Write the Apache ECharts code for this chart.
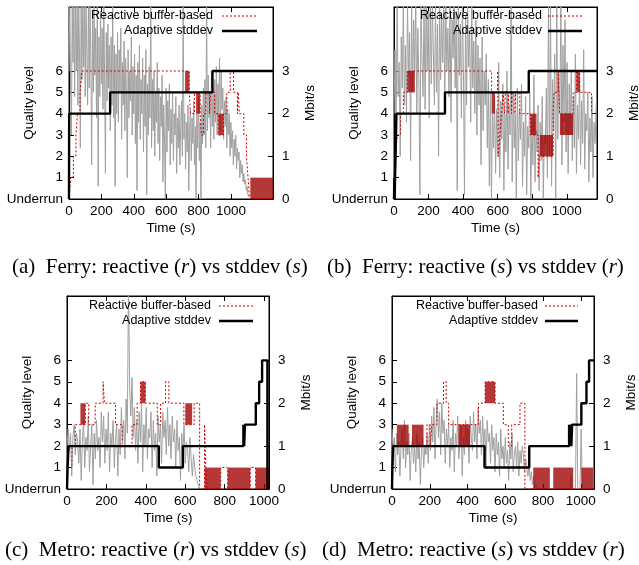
<!DOCTYPE html>
<html><head><meta charset="utf-8">
<script src="https://cdn.jsdelivr.net/npm/echarts@6/dist/echarts.min.js"></script>
<style>html,body{margin:0;padding:0;background:#fff}#c{width:639px;height:565px}</style>
</head><body><div id="c"></div><script>
// ---------- data ----------
const xTicks = [0, 200, 400, 600, 800, 1000];
const levelTicks = [0, 1, 2, 3, 4, 5, 6];
const mbitTicks = [0, 1, 2, 3];
const levelNames = ['Underrun', '1', '2', '3', '4', '5', '6'];
const legendNames = ['Reactive buffer-based', 'Adaptive stddev'];
const captionLetters = ['(a)', '(b)', '(c)', '(d)'];
const captionTrips = ['Ferry', 'Ferry', 'Metro', 'Metro'];
const captionReactive = ['r', 's', 'r', 's'];
const captionStddev = ['s', 'r', 's', 'r'];
const xMax = [1260, 1175, 1025, 1070];

// throughput samples (Mbit/s), sample interval in seconds
const grayStep = [5, 6, 6, 6];
const grayA = [
3.0,4.6,2.6,1.5,4.6,3.2,4.6,2.4,4.6,3.0, 4.6,2.2,4.6,3.4,1.2,4.6,2.8,4.6,3.1,4.6,
2.4,4.6,3.5,2.2,4.6,2.6,4.6,3.3,0.8,4.2, 2.5,4.6,2.9,4.0,1.9,4.6,0.3,3.8,2.4,4.4,
2.7,4.0,2.1,4.6,2.8,0.6,3.9,2.3,4.1,2.6, 3.6,1.6,3.8,2.2,4.6,1.9,3.6,0.3,3.4,2.0,
3.9,1.8,3.5,2.5,4.0,1.4,3.2,2.2,3.7,1.6, 3.3,2.4,0.5,3.5,1.9,3.0,2.3,3.8,1.5,3.1,
2.0,3.4,1.3,2.9,0.2,3.2,1.8,3.6,1.4,2.8, 2.0,3.3,1.1,2.9,1.7,3.5,0.1,2.7,1.5,3.1,
1.9,4.6,1.2,2.8,1.6,3.0,1.0,2.5,1.8,3.2, 1.3,2.6,0.9,2.4,1.7,2.9,0.4,2.2,1.4,0.0,
2.6,1.1,2.3,1.6,2.7,0.8,2.1,1.3,2.5,0.9, 2.0,1.5,2.4,0.6,1.9,1.2,2.2,0.8,1.7,2.3,
1.0,4.5,1.4,2.0,0.7,1.8,1.1,2.2,0.2,1.6, 2.1,0.9,1.9,1.3,2.3,0.8,1.7,0.0,2.0,1.2,
2.4,0.9,1.8,0.0,2.2,1.3,2.6,1.5,2.8,1.2, 4.5,1.6,2.9,1.9,2.5,1.2,3.0,1.7,2.6,1.4,
2.8,1.8,3.1,1.5,2.7,2.0,3.3,1.6,3.0,2.1, 2.6,1.4,2.3,1.7,2.4,1.2,2.1,1.5,2.0,1.0,
1.8,1.2,1.6,0.8,1.4,1.0,1.5,0.7,1.2,0.9, 1.1,0.5,0.9,0.6,0.8,0.4,0.6,0.35,0.45,0.2,
0.3,0.1,0.05
];
const grayB = [
2.0,3.5,1.6,4.6,2.4,3.2,1.0,3.8,2.6,4.6, 2.2,3.6,1.8,4.6,2.9,3.9,0.9,4.6,2.5,4.2,
3.0,4.6,2.0,4.0,2.8,0.1,4.6,3.3,2.4,4.6, 2.1,4.6,3.0,4.4,1.9,4.6,2.7,4.6,3.4,2.2,
4.6,2.5,4.1,1.0,4.6,2.8,4.3,3.2,4.6,2.3, 4.6,3.0,4.0,2.4,4.6,1.8,4.2,3.3,4.6,2.6,
4.4,0.2,4.6,2.9,4.1,1.9,4.6,3.0,0.1,4.3, 2.2,4.6,3.1,3.9,1.8,4.6,2.6,3.7,2.0,4.2,
1.5,3.6,2.2,3.3,0.8,3.8,1.6,3.0,2.2,3.4, 1.2,2.8,0.3,2.5,0.0,2.0,1.2,2.4,0.6,2.1,
1.0,3.2,0.5,2.3,1.4,2.7,0.2,2.0,1.1,3.0, 0.7,2.2,1.5,4.6,0.4,2.5,1.2,2.0,0.0,2.6,
0.9,2.1,1.4,2.7,0.3,1.8,1.0,2.4,0.1,1.7, 1.2,2.5,0.0,1.9,0.8,2.9,0.4,1.6,1.1,2.2,
0.2,1.8,0.9,2.4,0.0,1.5,1.3,2.6,0.5,4.6, 1.0,4.6,0.3,2.8,1.6,3.4,0.0,4.6,1.4,3.0,
2.0,4.6,0.8,3.6,1.8,4.2,1.1,3.2,0.6,2.7, 1.5,3.0,0.9,2.4,1.2,3.4,0.6,2.2,1.4,2.8,
0.8,2.3,1.3,3.5,0.7,2.0,1.6,2.5,0.4,1.9, 1.1,2.4,0.5,1.8,1.3,2.2
];
const grayC = [
1.0,1.4,0.9,1.3,0.3,1.2,1.5,0.8,1.3,1.1, 0.6,1.4,0.2,1.1,1.6,0.5,1.2,0.9,1.7,0.4,
1.0,1.5,0.1,1.3,0.7,1.6,0.9,1.2,0.5,1.8, 1.1,1.7,0.6,1.4,0.9,1.8,0.4,1.3,1.0,1.6,
0.5,1.2,1.5,0.3,1.4,0.8,1.9,1.1,1.6,0.7, 2.1,1.3,4.8,2.4,1.7,2.6,1.2,1.9,0.9,1.6,
0.6,1.8,1.1,2.0,0.4,1.5,1.0,1.9,0.7,1.4, 1.2,1.8,0.5,1.6,0.9,1.3,0.3,1.7,1.1,1.5,
0.6,1.8,1.2,1.6,0.8,1.9,1.0,1.5,0.7,1.7, 1.1,1.4,0.5,1.6,0.9,1.2,0.2,1.3,0.8,1.5,
0.6,1.1,0.9,0.4,1.2,0.7,0.3,0.8,0.5,0.3, 0.2,0.1,0.0
];
const grayD = [
1.4,0.9,1.2,0.4,1.3,0.8,1.1,0.3,1.0,1.4, 0.7,1.6,0.5,1.1,0.8,1.3,0.2,0.9,1.2,0.6,
1.0,0.4,1.3,0.7,1.1,0.1,0.9,1.2,0.5,1.0, 0.8,1.3,0.6,1.5,0.9,1.7,1.1,1.9,0.7,1.6,
2.1,1.2,1.8,0.8,2.0,1.3,1.6,0.6,1.4,1.0, 1.5,0.5,1.2,0.9,1.6,0.4,1.3,1.0,1.7,0.7,
1.1,1.5,0.3,1.2,0.8,1.6,1.0,1.4,0.6,1.7, 1.2,0.9,1.8,1.1,1.5,0.7,1.9,1.3,1.6,0.8,
1.7,1.0,1.4,0.5,1.6,1.1,1.3,0.6,1.5,0.9, 1.2,0.4,1.3,0.8,1.1,0.3,1.4,0.7,1.0,0.5,
1.2,0.6,0.9,0.2,1.1,0.7,1.3,0.4,0.8,1.0, 0.5,1.1,0.3,0.9,0.6,1.0,0.8,0.4,0.7,0.5,
0.3,0.6,0.2,0.4,0.1,0.3,0.0,0.1,0.0,null,
null,null,null,null,null,null,null,null,null,null,
null,null,null,null,null,null,null,null,null,null,
null,null,null,null,null,null,null,0.0,0.3,0.0,
null,null,0.0,2.7,0.0,null,0.0,1.4,0.0,null,
null,null,null,null,null,null,null,null,null
];

// quality level of reactive buffer-based: [time s, level] change points
const redA = [[0,0],[10,1],[27,2],[43,3],[52,4],[68,5],[80,6],[717,6],[743,5],[750,4],[775,5],[810,4],[818,3],[831,4],[845,5],[868,4],[875,5],[900,4],[922,3],[954,4],[975,5],[996,6],[1016,5],[1040,4],[1046,5],[1052,4],[1080,3],[1096,2],[1106,1],[1115,0],[1260,0]];
const redB = [[0,0],[8,2],[19,3],[38,4],[54,5],[77,6],[565,5],[600,6],[604,2],[613,3],[622,4],[632,5],[640,4],[644,5],[660,4],[664,5],[680,4],[684,5],[700,4],[704,5],[728,4],[790,3],[834,1],[840,2],[921,4],[926,5],[950,6],[958,4],[1037,5],[1056,6],[1075,5],[1143,4],[1175,4]];
const redC = [[0,0],[3,1],[25,2],[42,3],[93,4],[110,3],[143,4],[183,5],[190,4],[246,3],[280,2],[330,3],[356,4],[373,5],[398,4],[458,3],[475,4],[500,5],[517,4],[593,3],[645,4],[673,0],[698,3],[704,1],[710,0],[780,1],[815,0],[930,1],[957,0],[1025,0]];
const redD = [[0,0],[9,2],[185,3],[202,2],[212,3],[238,4],[273,5],[287,4],[300,3],[458,4],[493,5],[546,4],[590,3],[616,2],[634,3],[678,4],[704,0],[1070,0]];
// dense oscillation bands of reactive: [t start, t end, low level, high level]
const bandA = [[717,743,5,6],[785,810,4,5],[922,954,3,4],[1120,1260,0,1]];
const bandB = [[77,121,5,6],[565,584,4,5],[790,825,3,4],[844,921,2,3],[960,1037,3,4],[1056,1075,5,6]];
const bandC = [[68,93,3,4],[373,398,4,5],[600,635,3,4],[698,780,0,1],[815,930,0,1],[957,1025,0,1]];
const bandD = [[26,88,2,3],[106,167,2,3],[352,414,2,3],[493,546,4,5],[748,836,0,1],[854,960,0,1],[1003,1065,0,1]];
// quality level of adaptive stddev
const blackA = [[0,0],[1,4],[254,5],[886,6],[1260,6]];
const blackB = [[0,0],[2,1],[4,0],[6,1],[9,2],[14,4],[295,5],[780,6],[1175,6]];
const blackC = [[0,0],[3,1],[8,2],[466,1],[588,2],[895,3],[899,2],[903,3],[958,4],[975,5],[990,6],[1017,0],[1025,0]];
const blackD = [[0,0],[2,1],[6,2],[490,1],[727,2],[938,3],[942,2],[946,3],[950,2],[954,3],[1003,4],[1030,5],[1044,6],[1070,6]];

const grays = [grayA, grayB, grayC, grayD];
const reds = [redA, redB, redC, redD];
const bands = [bandA, bandB, bandC, bandD];
const blacks = [blackA, blackB, blackC, blackD];

// ---------- layout ----------
const layout = [
  {left:69, top:7, width:204, height:192, legX:213, legS:[222,257], legY:[16,31], capX:12, capY:267},
  {left:394, top:7, width:203, height:192, legX:542, legS:[548,582], legY:[16,31], capX:327, capY:267},
  {left:67, top:296, width:202, height:193, legX:211, legS:[219,253], legY:[306,321], capX:5, capY:550},
  {left:392, top:296, width:202, height:193, legX:538, legS:[545,578], legY:[306,321], capX:322, capY:550}
];
const SANS = "'Liberation Sans', Arial, Helvetica, sans-serif";
const SERIF = "'Liberation Serif', 'Times New Roman', serif";
const FS = 13.5;
const LFS = 12.5;
const RED = '#cc0000';

const grid = [], xAxis = [], yAxis = [], series = [], graphic = [];
layout.forEach((L, i) => {
  grid.push({left:L.left, top:L.top, width:L.width, height:L.height, containLabel:false, outerBoundsMode:'none',
    show:true, borderColor:'#000', borderWidth:1, backgroundColor:'transparent'});
  const lbl = {color:'#000', fontFamily:SANS, fontSize:FS};
  xAxis.push({type:'value', gridIndex:i, min:0, max:xMax[i], position:'bottom',
    name:'Time (s)', nameLocation:'middle', nameGap:22, nameMoveOverlap:false, nameTextStyle:lbl,
    axisLine:{show:true, onZero:false, lineStyle:{color:'#000', width:1}},
    axisTick:{show:true, inside:true, length:5, customValues:xTicks, lineStyle:{color:'#000'}},
    axisLabel:Object.assign({customValues:xTicks, margin:5, formatter:v => String(v)}, lbl),
    splitLine:{show:false}});
  xAxis.push({type:'value', gridIndex:i, min:0, max:xMax[i], position:'top',
    axisLine:{show:true, onZero:false, lineStyle:{color:'#000', width:1}},
    axisTick:{show:true, inside:true, length:5, customValues:xTicks, lineStyle:{color:'#000'}},
    axisLabel:{show:false}, splitLine:{show:false}});
  yAxis.push({type:'value', gridIndex:i, min:0, max:9, position:'left',
    name:'Quality level', nameLocation:'middle', nameGap:33, nameRotate:90, nameMoveOverlap:false, nameTextStyle:lbl,
    axisLine:{show:true, onZero:false, lineStyle:{color:'#000', width:1}},
    axisTick:{show:true, inside:true, length:5, customValues:levelTicks, lineStyle:{color:'#000'}},
    axisLabel:Object.assign({customValues:levelTicks, margin:6, formatter:v => levelNames[Math.round(v)]}, lbl),
    splitLine:{show:false}});
  yAxis.push({type:'value', gridIndex:i, min:0, max:4.5, position:'right',
    name:'Mbit/s', nameLocation:'middle', nameGap:30, nameRotate:90, nameMoveOverlap:false, nameTextStyle:lbl,
    axisLine:{show:true, onZero:false, lineStyle:{color:'#000', width:1}},
    axisTick:{show:true, inside:true, length:5, customValues:mbitTicks, lineStyle:{color:'#000'}},
    axisLabel:Object.assign({customValues:mbitTicks, margin:9, formatter:v => String(v)}, lbl),
    splitLine:{show:false}});

  series.push({type:'line', name:'throughput', xAxisIndex:2*i, yAxisIndex:2*i+1,
    data: grays[i].map((v,k) => [k*grayStep[i], v === null ? '-' : v]),
    symbol:'none', connectNulls:false, lineStyle:{color:'#a0a0a0', width:1}, z:1, silent:true});
  series.push({type:'custom', name:legendNames[0]+' dense', xAxisIndex:2*i, yAxisIndex:2*i,
    data: bands[i], encode:{x:[0,1], y:[2,3]}, z:2, silent:true,
    renderItem:(params, api) => {
      const p0 = api.coord([api.value(0), api.value(3)]);
      const p1 = api.coord([api.value(1), api.value(2)]);
      return {type:'rect', shape:{x:p0[0], y:p0[1], width:p1[0]-p0[0], height:p1[1]-p0[1]},
        style:{fill:'#a00000', opacity:0.78}};
    }});
  series.push({type:'line', name:legendNames[0], xAxisIndex:2*i, yAxisIndex:2*i, data:reds[i], step:'end',
    symbol:'none', lineStyle:{color:RED, width:1, type:[2,2]}, z:3, silent:true});
  series.push({type:'line', name:legendNames[1], xAxisIndex:2*i, yAxisIndex:2*i, data:blacks[i], step:'end',
    symbol:'none', lineStyle:{color:'#000', width:2.4}, z:4, silent:true});

  // legend (gnuplot style: text then sample)
  [0,1].forEach(k => {
    graphic.push({type:'text', z:10, style:{text:legendNames[k], x:L.legX, y:L.legY[k], align:'right', verticalAlign:'middle', fill:'#000', font:LFS+'px '+SANS}});
    graphic.push({type:'line', z:10, shape:{x1:L.legS[0], y1:L.legY[k], x2:L.legS[1], y2:L.legY[k]},
      style: k === 0 ? {stroke:RED, lineWidth:1, lineDash:[2,2]} : {stroke:'#000', lineWidth:2.4}});
  });
  // caption
  graphic.push({type:'text', z:10, style:{
    text:'{n|'+captionLetters[i]+'  '+captionTrips[i]+': reactive (}{i|'+captionReactive[i]+'}{n|) vs stddev (}{i|'+captionStddev[i]+'}{n|)}',
    x:L.capX, y:L.capY, verticalAlign:'middle', align:'left',
    rich:{n:{fontFamily:SERIF, fontSize:21, fill:'#000'}, i:{fontFamily:SERIF, fontSize:21, fontStyle:'italic', fill:'#000'}}}});
});

const chart = echarts.init(document.getElementById('c'), null, {renderer:'canvas'});
chart.setOption({animation:false, backgroundColor:'#fff', grid, xAxis, yAxis, series, graphic});
</script></body></html>
